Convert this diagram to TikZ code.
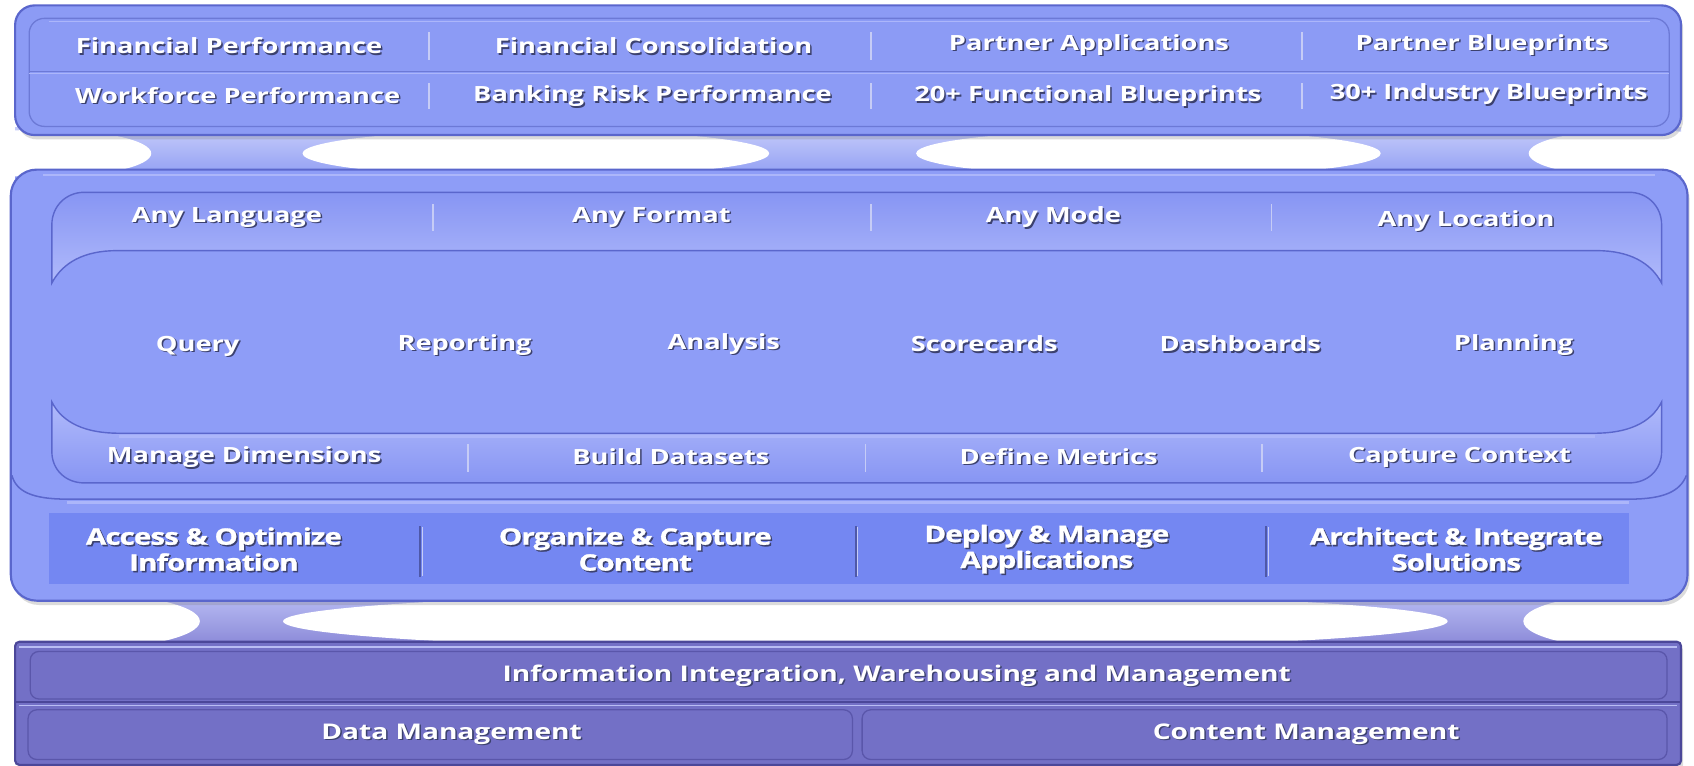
\documentclass[tikz,border=0pt]{standalone}
\usepackage{fontspec}
\setmainfont{Open Sans}[FakeStretch=1.3]
\usetikzlibrary{shadows}
\definecolor{panelc}{HTML}{8C9BF5}
\definecolor{edgec}{HTML}{5A66CC}
\definecolor{midc}{HTML}{8E9DF7}
\definecolor{bandc}{HTML}{7487F2}
\definecolor{botc}{HTML}{7370C6}
\definecolor{botedge}{HTML}{4B4799}
\definecolor{cellc}{HTML}{5A56AA}
\definecolor{sepc}{HTML}{C6CCF6}
\definecolor{shadowc}{HTML}{3C416E}
\definecolor{insetc}{HTML}{6C79D6}
\definecolor{hilite}{HTML}{ACB6FA}
\definecolor{tabtop}{HTML}{8795F3}
\definecolor{tabbot}{HTML}{B0BAFB}
\definecolor{neckhi}{HTML}{C6CCFA}
\definecolor{necklo}{HTML}{8E9CF3}
\definecolor{bneckhi}{HTML}{B9BDF4}
\definecolor{bnecklo}{HTML}{8886D6}
\definecolor{accsep}{HTML}{4E58A8}
\newcommand{\shd}[1]{\leavevmode\rlap{\kern1.4pt\raisebox{-1.4pt}{\textcolor{shadowc}{#1}}}\textcolor{white}{#1}}
\tikzset{
  lbl/.style={font=\fontsize{19.4}{22}\selectfont\bfseries, inner sep=0pt, anchor=center},
  acc/.style={font=\fontsize{21}{24}\selectfont\bfseries\addfontfeatures{LetterSpace=-4,FakeBold=1.2}, inner sep=0pt, anchor=center, align=center},
  blbl/.style={font=\fontsize{20}{23}\selectfont\bfseries, inner sep=0pt, anchor=center},
  sepline/.style={draw=sepc, line width=1.5pt},
  accline/.style={draw=accsep, line width=1.6pt},
  pshadow/.style={drop shadow={opacity=0.28, shadow xshift=2pt, shadow yshift=-4pt}},
}
\begin{document}
\begin{tikzpicture}[x=1pt,y=-1pt]
\useasboundingbox (0,0) rectangle (1568,709);

% ---- necks between top and middle panels
\shade[top color=neckhi, bottom color=necklo] (14,118) rectangle (1556,165);
\fill[white] (40,142) ellipse [x radius=100, y radius=22];
\fill[white] (496,142) ellipse [x radius=216, y radius=22];
\fill[white] (1063,142) ellipse [x radius=215, y radius=22];
\fill[white] (1515,142) ellipse [x radius=100, y radius=22];

% ---- necks between middle and bottom panels
\shade[top color=bneckhi, bottom color=bnecklo] (14,550) rectangle (1556,600);
\fill[white] (60,575) ellipse [x radius=125, y radius=27];
\fill[white] (801,575) ellipse [x radius=539, y radius=27];
\fill[white] (1530,575) ellipse [x radius=120, y radius=27];

% ---- top panel
\filldraw[fill=panelc, draw=edgec, line width=2pt, rounded corners=18, pshadow] (14,5) rectangle (1556,125);
\draw[draw=insetc, line width=1.2pt, rounded corners=14] (27,17) rectangle (1545,117);
\draw[hilite, line width=1.5pt] (45,20) -- (1527,20);
\draw[insetc, line width=1.2pt] (27,66) -- (1545,66);
\draw[hilite, line width=1pt] (27,68) -- (1545,68);
\foreach \x in {397,806,1205} {
  \draw[sepline] (\x,30) -- (\x,56);
  \draw[sepline] (\x,77) -- (\x,101);
}
\node[lbl] (fp)  at (212,43) {\shd{Financial Performance}};
\node[lbl] (fc)  at (605,43) {\shd{Financial Consolidation}};
\node[lbl] (pa)  at (1008,42) {\shd{Partner Applications}};
\node[lbl] (pb)  at (1372,42) {\shd{Partner Blueprints}};
\node[lbl] (wp)  at (220,89) {\shd{Workforce Performance}};
\node[lbl] (brp) at (604,90) {\shd{Banking Risk Performance}};
\node[lbl] (fb)  at (1007,90) {\shd{20+ Functional Blueprints}};
\node[lbl] (ib)  at (1378,88) {\shd{30+ Industry Blueprints}};

% ---- middle panel
\filldraw[fill=midc, draw=edgec, line width=2pt, rounded corners=24, pshadow] (10,157) rectangle (1562,556);
\draw[hilite, line width=1.5pt] (40,162) -- (1532,162);
% top band (curled tab)
\shade[top color=tabtop, bottom color=tabbot]
  (48,262) -- (48,208) .. controls (48,191) and (61,178) .. (78,178)
  -- (1508,178) .. controls (1525,178) and (1538,191) .. (1538,208)
  -- (1538,262) .. controls (1528,243) and (1508,232) .. (1478,232)
  -- (108,232) .. controls (78,232) and (58,243) .. (48,262) -- cycle;
\draw[edgec, line width=1.3pt]
  (48,262) -- (48,208) .. controls (48,191) and (61,178) .. (78,178)
  -- (1508,178) .. controls (1525,178) and (1538,191) .. (1538,208)
  -- (1538,262) .. controls (1528,243) and (1508,232) .. (1478,232)
  -- (108,232) .. controls (78,232) and (58,243) .. (48,262) -- cycle;
% bottom band (curled tab)
\shade[top color=tabbot, bottom color=tabtop]
  (48,372) .. controls (58,392) and (80,401) .. (110,401)
  -- (1476,401) .. controls (1506,401) and (1528,392) .. (1538,372)
  -- (1538,418) .. controls (1538,435) and (1525,447) .. (1508,447)
  -- (78,447) .. controls (61,447) and (48,435) .. (48,418) -- cycle;
\draw[edgec, line width=1.3pt]
  (48,372) .. controls (58,392) and (80,401) .. (110,401)
  -- (1476,401) .. controls (1506,401) and (1528,392) .. (1538,372)
  -- (1538,418) .. controls (1538,435) and (1525,447) .. (1508,447)
  -- (78,447) .. controls (61,447) and (48,435) .. (48,418) -- cycle;
\draw[hilite, line width=2pt] (110,404) -- (1476,404);
% lower tray ridge
\draw[edgec, line width=1.4pt] (11,440) .. controls (15,455) and (30,462) .. (62,462) -- (1508,462) .. controls (1540,462) and (1555,455) .. (1561,440);
\draw[hilite, line width=2.5pt] (62,465) -- (1508,465);
% access band
\fill[bandc] (45,475) rectangle (1508,541);

\foreach \x in {401,806,1177} { \draw[sepline] (\x,189) -- (\x,214); }
\foreach \x in {433,801,1168} { \draw[sepline] (\x,411) -- (\x,437); }
\foreach \x in {389,792,1172} {
  \draw[accline] (\x,487) -- (\x,534);
  \draw[draw=sepc, line width=1pt] (\x+1.8,488) -- (\x+1.8,533);
}

\node[lbl] (al) at (210,202) {\shd{Any Language}};
\node[lbl] (af) at (603,202) {\shd{Any Format}};
\node[lbl] (am) at (975,202) {\shd{Any Mode}};
\node[lbl] (alo) at (1357,205) {\shd{Any Location}};

\node[lbl] (q)  at (183,321) {\shd{Query}};
\node[lbl] (r)  at (430,320) {\shd{Reporting}};
\node[lbl] (an) at (670,319) {\shd{Analysis}};
\node[lbl] (sc) at (911,319) {\shd{Scorecards}};
\node[lbl] (db) at (1148,319) {\shd{Dashboards}};
\node[lbl] (pl) at (1401,320) {\shd{Planning}};

\node[lbl] (md) at (226,424) {\shd{Manage Dimensions}};
\node[lbl] (bd) at (621,423) {\shd{Build Datasets}};
\node[lbl] (dm) at (980,423) {\shd{Define Metrics}};
\node[lbl] (cc) at (1351,424) {\shd{Capture Context}};

\node[acc] (ao) at (198,509) {\shd{Access \& Optimize}\\\shd{Information}};
\node[acc] (oc) at (588,509) {\shd{Organize \& Capture}\\\shd{Content}};
\node[acc] (da) at (969,509) {\shd{Deploy \& Manage}\\\shd{Applications}};
\node[acc] (ai) at (1348,509) {\shd{Architect \& Integrate}\\\shd{Solutions}};

% ---- bottom panel
\filldraw[fill=botc, draw=botedge, line width=2pt, rounded corners=4, pshadow] (14,594) rectangle (1556,708);
\draw[bneckhi, line width=1.5pt] (18,599) -- (1552,599);
\draw[draw=cellc, line width=1.2pt, rounded corners=8] (28,603) rectangle (1543,647);
\draw[draw=botedge, line width=1.5pt] (15,650) -- (1555,650);
\draw[bneckhi, line width=1.2pt] (18,653) -- (1552,653);
\draw[draw=cellc, line width=1.2pt, rounded corners=8] (26,657) rectangle (789,703);
\draw[draw=cellc, line width=1.2pt, rounded corners=8] (798,657) rectangle (1543,703);

\node[blbl] (iiw) at (830,626) {\shd{Information Integration, Warehousing and Management}};
\node[blbl] (dmg) at (418,680) {\shd{Data Management}};
\node[blbl] (cmg) at (1209,680) {\shd{Content Management}};
\end{tikzpicture}
\end{document}
